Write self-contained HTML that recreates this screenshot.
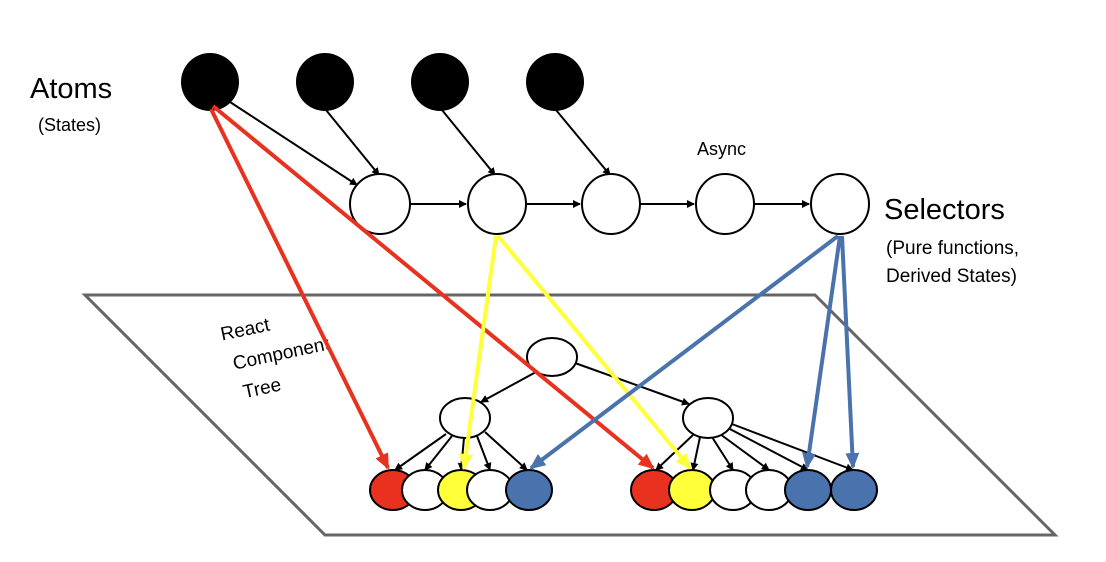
<!DOCTYPE html>
<html><head><meta charset="utf-8"><style>
html,body{margin:0;padding:0;background:#fff;width:1106px;height:562px;overflow:hidden}
text{font-family:"Liberation Sans",sans-serif;fill:#000}
</style></head><body>
<svg width="1106" height="562" viewBox="0 0 1106 562" xmlns="http://www.w3.org/2000/svg">
<defs>
<marker id="ak" markerWidth="8" markerHeight="8" refX="7" refY="4" orient="auto" markerUnits="userSpaceOnUse"><path d="M0,0 L8,4 L0,8 z" fill="#000"/></marker>
<marker id="ar" markerWidth="16" markerHeight="14" refX="14" refY="7" orient="auto" markerUnits="userSpaceOnUse"><path d="M0,0 L16,7 L0,14 z" fill="#e8321f"/></marker>
<marker id="ay" markerWidth="16" markerHeight="14" refX="14" refY="7" orient="auto" markerUnits="userSpaceOnUse"><path d="M0,0 L16,7 L0,14 z" fill="#ffff3a"/></marker>
<marker id="ab" markerWidth="16" markerHeight="14" refX="14" refY="7" orient="auto" markerUnits="userSpaceOnUse"><path d="M0,0 L16,7 L0,14 z" fill="#4a72ad"/></marker>
</defs>
<polygon points="85,295 815,295 1055,535 325,535" fill="none" stroke="#666" stroke-width="3"/>
<text x="30" y="98" font-size="29">Atoms</text>
<text x="38" y="131" font-size="18">(States)</text>
<text x="884" y="219" font-size="29">Selectors</text>
<text x="886" y="254" font-size="19">(Pure functions,</text>
<text x="886" y="282" font-size="19">Derived States)</text>
<text x="697" y="155" font-size="18">Async</text>
<g font-size="19" transform="rotate(-12 225 340)">
<text x="222" y="340">React</text><text x="228" y="371">Component</text><text x="232" y="401">Tree</text></g>
<g stroke="#000" stroke-width="2" fill="none" marker-end="url(#ak)">
<line x1="230" y1="102" x2="357" y2="185"/>
<line x1="326" y1="110" x2="379" y2="175"/>
<line x1="442" y1="110" x2="495" y2="175"/>
<line x1="556" y1="110" x2="610" y2="175"/>
<line x1="410" y1="204" x2="466" y2="204"/>
<line x1="527" y1="204" x2="580" y2="204"/>
<line x1="640" y1="204" x2="694" y2="204"/>
<line x1="755" y1="204" x2="809" y2="204"/>
<line x1="536" y1="372" x2="481" y2="402"/>
<line x1="575" y1="363" x2="689" y2="404"/>
<line x1="446" y1="434" x2="395" y2="470"/>
<line x1="452" y1="436" x2="425" y2="470"/>
<line x1="464" y1="438" x2="461" y2="470"/>
<line x1="477" y1="436" x2="490" y2="470"/>
<line x1="485" y1="432" x2="527" y2="470"/>
<line x1="693" y1="435" x2="656" y2="470"/>
<line x1="700" y1="437" x2="693" y2="470"/>
<line x1="712" y1="437" x2="733" y2="470"/>
<line x1="720" y1="434" x2="769" y2="470"/>
<line x1="728" y1="428" x2="808" y2="470"/>
<line x1="732" y1="424" x2="853" y2="470"/>
</g>
<g fill="#000">
<ellipse cx="210" cy="82" rx="29" ry="29"/><ellipse cx="325" cy="82" rx="29" ry="29"/>
<ellipse cx="440" cy="82" rx="29" ry="29"/><ellipse cx="555" cy="82" rx="29" ry="29"/>
</g>
<g fill="#fff" stroke="#000" stroke-width="2">
<ellipse cx="380" cy="204" rx="30" ry="30"/><ellipse cx="497" cy="204" rx="29" ry="30"/>
<ellipse cx="611" cy="204" rx="29" ry="30"/><ellipse cx="725" cy="204" rx="29" ry="30"/>
<ellipse cx="840" cy="204" rx="29" ry="30"/>
<ellipse cx="552" cy="357" rx="25" ry="19"/><ellipse cx="465" cy="418" rx="25" ry="20"/>
<ellipse cx="708" cy="418" rx="25" ry="20"/>
<ellipse cx="393" cy="490" rx="23" ry="20" fill="#e8321f"/>
<ellipse cx="425" cy="490" rx="23" ry="20"/>
<ellipse cx="461" cy="490" rx="23" ry="20" fill="#ffff3a"/>
<ellipse cx="490" cy="490" rx="23" ry="20"/>
<ellipse cx="529" cy="490" rx="23" ry="20" fill="#4a72ad"/>
<ellipse cx="654" cy="490" rx="23" ry="20" fill="#e8321f"/>
<ellipse cx="692" cy="490" rx="23" ry="20" fill="#ffff3a"/>
<ellipse cx="733" cy="490" rx="23" ry="20"/>
<ellipse cx="769" cy="490" rx="23" ry="20"/>
<ellipse cx="808" cy="490" rx="23" ry="20" fill="#4a72ad"/>
<ellipse cx="854" cy="490" rx="23" ry="20" fill="#4a72ad"/>
</g>
<g stroke-width="4" fill="none">
<line x1="211" y1="109" x2="388" y2="468" stroke="#e8321f" marker-end="url(#ar)"/>
<line x1="213" y1="106" x2="653" y2="468" stroke="#e8321f" marker-end="url(#ar)"/>
<line x1="496" y1="236" x2="464" y2="468" stroke="#ffff3a" marker-end="url(#ay)"/>
<line x1="498" y1="236" x2="690" y2="468" stroke="#ffff3a" marker-end="url(#ay)"/>
<line x1="838" y1="236" x2="531" y2="468" stroke="#4a72ad" marker-end="url(#ab)"/>
<line x1="840" y1="236" x2="807" y2="467" stroke="#4a72ad" marker-end="url(#ab)"/>
<line x1="842" y1="236" x2="853" y2="467" stroke="#4a72ad" marker-end="url(#ab)"/>
</g>
</svg>
</body></html>
